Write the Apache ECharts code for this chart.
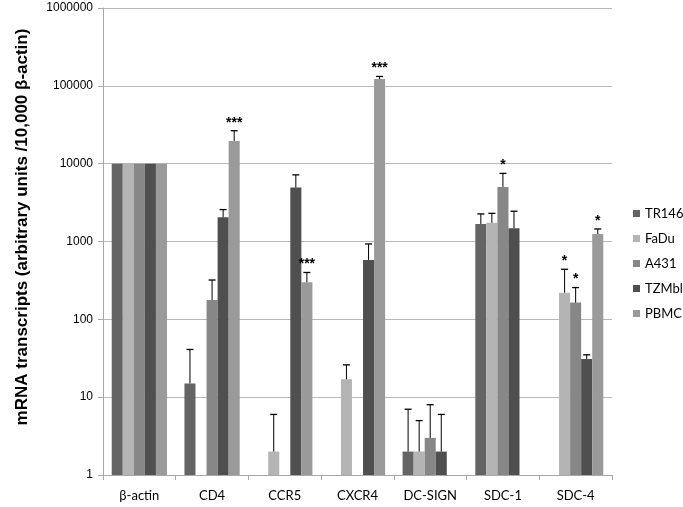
<!DOCTYPE html>
<html><head><meta charset="utf-8">
<script src="https://cdn.jsdelivr.net/npm/echarts@6/dist/echarts.min.js"></script>
<style>html,body{margin:0;padding:0;background:#fff}#c{width:683px;height:507px}</style>
</head><body><div id="c"></div>
<script>
const categories = ['β-actin','CD4','CCR5','CXCR4','DC-SIGN','SDC-1','SDC-4'];
const seriesNames = ['TR146','FaDu','A431','TZMbl','PBMC'];
const seriesColors = ['#646464','#b4b4b4','#878787','#4f4f4f','#9a9a9a'];

const tr146     = [10000, 15,    null, null,   2,    1680, null];
const tr146Err  = [null,  41,    null, null,   7,    2260, null];
const tr146Star = ['',    '',    '',   '',     '',   '',   ''];

const fadu      = [10000, null,  2,    17,     2,    1740, 220];
const faduErr   = [null,  null,  6,    26,     5,    2300, 440];
const faduStar  = ['',    '',    '',   '',     '',   '',   '*'];

const a431      = [10000, 177,   null, null,   3,    5030, 164];
const a431Err   = [null,  320,   null, null,   8,    7500, 256];
const a431Star  = ['',    '',    '',   '',     '',   '*',  '*'];

const tzmbl     = [10000, 2050,  4930, 580,    2,    1480, 31];
const tzmblErr  = [null,  2570,  7180, 930,    6,    2450, 35];
const tzmblStar = ['',    '',    '',   '',     '',   '',   ''];

const pbmc      = [10000, 19600, 300,  122000, null, null, 1250];
const pbmcErr   = [null,  26500, 400,  132000, null, null, 1450];
const pbmcStar  = ['',    '***', '***','***',  '',   '',   '*'];

const yTitle = 'mRNA transcripts (arbitrary units /10,000 β-actin)';

const values = [tr146, fadu, a431, tzmbl, pbmc];
const errs = [tr146Err, faduErr, a431Err, tzmblErr, pbmcErr];
const stars = [tr146Star, faduStar, a431Star, tzmblStar, pbmcStar];
const catGap = 0.24;

const errData = [];
values.forEach((arr, s) => {
  arr.forEach((v, c) => {
    if (v != null && errs[s][c] != null) errData.push([c, s, v, errs[s][c]]);
  });
});

const chart = echarts.init(document.getElementById('c'));
const series = seriesNames.map((n, i) => ({
  name: n, type: 'bar', barGap: '0%', barCategoryGap: (catGap*100)+'%',
  itemStyle: {color: seriesColors[i]},
  data: values[i].map(v => v == null ? '-' : v)
}));
series.push({
  type: 'custom', encode: {x: 0, y: 2}, z: 5, silent: true,
  data: errData,
  renderItem: function (params, api) {
    const c = api.value(0), s = api.value(1), v = api.value(2), e = api.value(3);
    const p0 = api.coord([c, v]);
    const pe = api.coord([c, e]);
    const band = api.coord([1, v])[0] - api.coord([0, v])[0];
    const bw = band * (1 - catGap) / 5;
    const x = p0[0] + (s - 2) * bw;
    const children = [
      {type: 'line', shape: {x1: x, y1: p0[1], x2: x, y2: pe[1]}, style: {stroke: '#000', lineWidth: 1}},
      {type: 'line', shape: {x1: x - 3.5, y1: pe[1], x2: x + 3.5, y2: pe[1]}, style: {stroke: '#000', lineWidth: 1.3}}
    ];
    const st = stars[s][c];
    if (st) {
      children.push({type: 'text', style: {text: st, x: x, y: pe[1] - 1, align: 'center', verticalAlign: 'bottom',
        fill: '#000', font: 'bold 14px "Liberation Sans", Arial'}});
    }
    return {type: 'group', children: children};
  }
});

chart.setOption({
  animation: false,
  grid: {left: 103, right: 71, top: 8, bottom: 32, containLabel: false},
  legend: {
    orient: 'vertical', left: 633, top: 207, padding: 0, itemWidth: 7, itemHeight: 7, itemGap: 12,
    icon: 'rect', data: seriesNames,
    textStyle: {fontFamily: 'Lato', fontSize: 13, color: '#000'}
  },
  graphic: [{
    type: 'text', x: 22, y: 227, rotation: Math.PI / 2, silent: true,
    style: {text: yTitle, font: 'bold 17px "Liberation Sans", Arial', fill: '#000',
      align: 'center', verticalAlign: 'middle'}
  }],
  xAxis: {
    type: 'category', data: categories,
    axisLine: {lineStyle: {color: '#a8a8a8'}},
    axisTick: {show: true, length: 5, lineStyle: {color: '#a8a8a8'}},
    axisLabel: {fontFamily: 'Lato', fontSize: 13, color: '#000', margin: 14}
  },
  yAxis: {
    type: 'log', logBase: 10, min: 1, max: 1000000,
    axisLine: {show: true, lineStyle: {color: '#a8a8a8'}},
    axisTick: {show: true, length: 5, lineStyle: {color: '#a8a8a8'}},
    splitLine: {lineStyle: {color: '#b8b8b8'}},
    axisLabel: {fontFamily: 'Liberation Sans', fontSize: 12, color: '#000', margin: 10,
      formatter: v => String(Math.round(v))}
  },
  series: series
});
</script></body></html>
